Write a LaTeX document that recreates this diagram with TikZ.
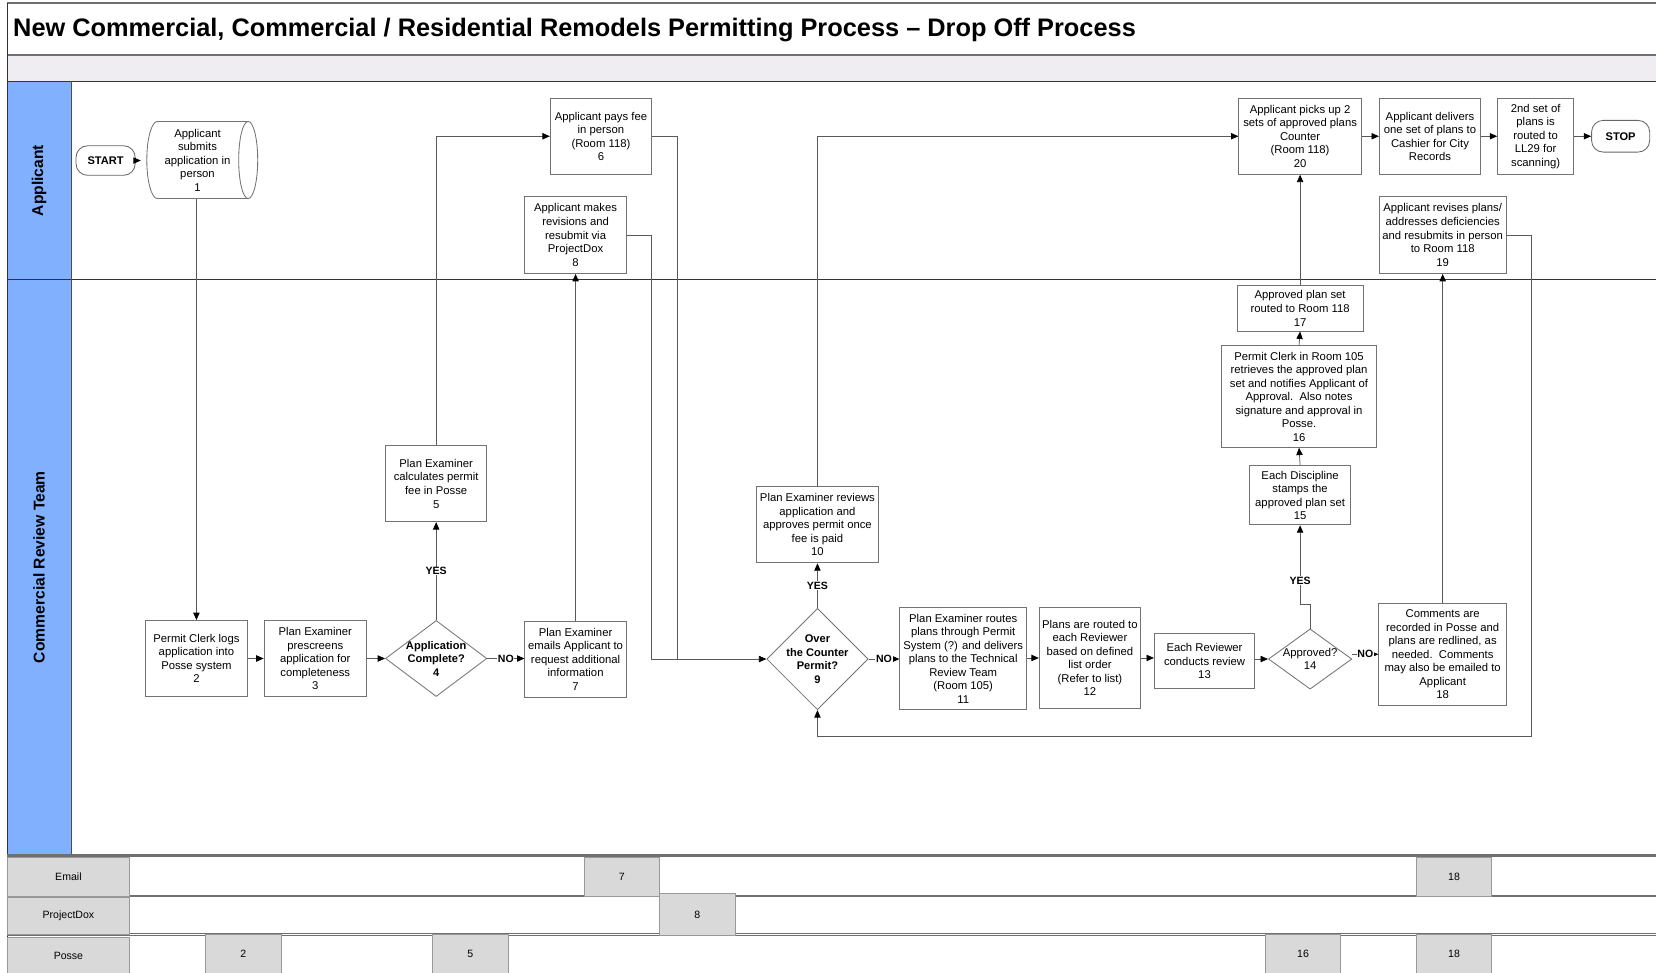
\documentclass[tikz,border=0pt]{standalone}
\usepackage{fontspec}
\setmainfont{Liberation Sans}
\usetikzlibrary{shapes.geometric,arrows.meta}
\definecolor{lanebl}{RGB}{128,176,255}
\definecolor{bandgr}{RGB}{239,237,242}
\definecolor{cellgr}{RGB}{217,217,217}
\definecolor{rulegr}{RGB}{112,112,112}
\begin{document}
\begin{tikzpicture}[x=1pt,y=-1pt,
  box/.style={draw=black!55, line width=0.8pt, fill=white, align=center, inner sep=1pt,
              font=\fontsize{10.7}{12.8}\selectfont},
  dia/.style={shape=diamond, draw=black!55, line width=0.8pt, fill=white, inner sep=0pt},
  diatext/.style={align=center, font=\bfseries\fontsize{10.5}{12.8}\selectfont},
  term/.style={draw=black!60, line width=0.8pt, rounded corners=11pt, fill=white, inner sep=0pt,
               font=\bfseries\fontsize{10.5}{12}\selectfont},
  conn/.style={draw=black!65, line width=0.7pt},
  arr/.style={conn, -{Triangle[length=7pt,width=6pt,color=black]}},
  lbl/.style={fill=white, inner sep=0.6pt, font=\bfseries\fontsize{10}{11}\selectfont},
  lanelbl/.style={rotate=90, font=\bfseries\fontsize{14.8}{16}\selectfont},
  cell/.style={fill=cellgr, draw=black!40, line width=0.6pt, inner sep=0pt, anchor=north west,
               font=\fontsize{10}{12}\selectfont},
]
\useasboundingbox (0,0) rectangle (1568,921);

% ---------- header, title band and swimlanes ----------
\fill[bandgr] (7,52) rectangle (1568,77);
\fill[lanebl] (7,77) rectangle (68,810);
\draw[rulegr, line width=1.6pt] (7,3) -- (1568,3);
\draw[rulegr, line width=1.6pt] (7,52) -- (1568,52);
\draw[black!80, line width=1pt] (7,77) -- (1568,77);
\draw[black!80, line width=1pt] (7,265) -- (1568,265);
\draw[black!70, line width=0.8pt] (68,77) -- (68,810);
\draw[black!80, line width=0.8pt] (7,3) -- (7,921);

\node[anchor=west, font=\bfseries\fontsize{24}{28}\selectfont] (title) at (9,28)
  {New Commercial, Commercial / Residential Remodels Permitting Process – Drop Off Process};

\node[lanelbl] (laneapp) at (37,171) {Applicant};
\node[lanelbl] (lanecrt) at (37,537) {Commercial Review Team};

% ---------- system rows ----------
\draw[rulegr, line width=2pt] (7,810) -- (1568,810);
\draw[rulegr, line width=2pt] (7,848) -- (1568,848);
\draw[rulegr, line width=0.8pt] (7,883.5) -- (1568,883.5);
\draw[rulegr, line width=0.8pt] (7,886) -- (1568,886);

\node[cell, minimum width=115, minimum height=37] (remail) at (7,811) {Email};
\node[cell, minimum width=115, minimum height=35] (rpdox) at (7,849) {ProjectDox};
\node[cell, minimum width=115, minimum height=35] (rposse) at (7,887) {Posse};

\node[cell, minimum width=71, minimum height=37] (e7)  at (553,811) {7};
\node[cell, minimum width=71, minimum height=37] (e18) at (1341,811) {18};
\node[cell, minimum width=72, minimum height=39] (p8)  at (624,846) {8};
\node[cell, minimum width=72, minimum height=37] (s2)  at (194,884) {2};
\node[cell, minimum width=72, minimum height=37] (s5)  at (409,884) {5};
\node[cell, minimum width=71, minimum height=37] (s16) at (1198,884) {16};
\node[cell, minimum width=71, minimum height=37] (s18) at (1341,884) {18};

% ---------- Applicant lane ----------
\node[term, minimum width=56, minimum height=28] (start) at (100,152) {START};

% application in person (horizontal cylinder)
\draw[black!55, line width=0.8pt, fill=white]
  (149,115) -- (235,115) arc[start angle=90, end angle=-90, x radius=9pt, y radius=36.5pt]
  -- (149,188) arc[start angle=-90, end angle=-270, x radius=10pt, y radius=36.5pt] -- cycle;
\draw[black!55, line width=0.8pt]
  (235,115) arc[start angle=90, end angle=270, x radius=9pt, y radius=36.5pt];
\node[align=center, inner sep=0pt, minimum width=107, minimum height=73,
      font=\fontsize{10.7}{12.8}\selectfont] (n1) at (187,151.5)
  {Applicant\\submits\\application in\\person\\1};

\node[box, minimum width=96, minimum height=72] (n6) at (569,129)
  {Applicant pays fee\\in person\\(Room 118)\\6};
\node[box, minimum width=96, minimum height=73] (n8) at (545,222.5)
  {Applicant makes\\revisions and\\resubmit via\\ProjectDox\\8};
\node[box, minimum width=116, minimum height=72] (n20) at (1231,129)
  {Applicant picks up 2\\sets of approved plans\\Counter\\(Room 118)\\20};
\node[box, minimum width=96, minimum height=72] (n21) at (1354,129)
  {Applicant delivers\\one set of plans to\\Cashier for City\\Records};
\node[box, minimum width=72, minimum height=72] (n22) at (1454,129)
  {2nd set of\\plans is\\routed to\\LL29 for\\scanning)};
\node[term, minimum width=55, minimum height=30] (stop) at (1534.5,129) {STOP};
\node[box, minimum width=120, minimum height=73] (n19) at (1366,222.5)
  {Applicant revises plans/\\addresses deficiencies\\and resubmits in person\\to Room 118\\19};

% ---------- Commercial Review Team lane ----------
\node[box, minimum width=96, minimum height=72] (n2) at (186,623.5)
  {Permit Clerk logs\\application into\\Posse system\\2};
\node[box, minimum width=97, minimum height=72] (n3) at (298.5,623.5)
  {Plan Examiner\\prescreens\\application for\\completeness\\3};
\node[dia, minimum width=96, minimum height=72,
      label={[name=t4, diatext]center:{Application\\Complete?\\4}}] (n4) at (413,623.5) {};
\node[box, minimum width=96, minimum height=72] (n5) at (413,458)
  {Plan Examiner\\calculates permit\\fee in Posse\\5};
\node[box, minimum width=96, minimum height=72] (n7) at (545,624)
  {Plan Examiner\\emails Applicant to\\request additional\\information\\7};
\node[dia, minimum width=96, minimum height=96,
      label={[name=t9, diatext]center:{Over\\the Counter\\Permit?\\9}}] (n9) at (774,624) {};
\node[box, minimum width=116, minimum height=72] (n10) at (774,497)
  {Plan Examiner reviews\\application and\\approves permit once\\fee is paid\\10};
\node[box, minimum width=120, minimum height=97] (n11) at (912,623.5)
  {Plan Examiner routes\\plans through Permit\\System (?) and delivers\\plans to the Technical\\Review Team\\(Room 105)\\11};
\node[box, minimum width=96, minimum height=96] (n12) at (1032,623)
  {Plans are routed to\\each Reviewer\\based on defined\\list order\\(Refer to list)\\12};
\node[box, minimum width=95, minimum height=52] (n13) at (1140.5,626)
  {Each Reviewer\\conducts review\\13};
\node[dia, minimum width=79, minimum height=57,
      label={[name=t14, align=center, font=\fontsize{10.7}{12.8}\selectfont]center:{Approved?\\14}}] (n14) at (1240.5,624) {};
\node[box, minimum width=96, minimum height=56] (n15) at (1231,469)
  {Each Discipline\\stamps the\\approved plan set\\15};
\node[box, minimum width=147, minimum height=96] (n16) at (1230,375.5)
  {Permit Clerk in Room 105\\retrieves the approved plan\\set and notifies Applicant of\\Approval.\ \ Also notes\\signature and approval in\\Posse.\\16};
\node[box, minimum width=119, minimum height=43] (n17) at (1231,292)
  {Approved plan set\\routed to Room 118\\17};
\node[box, minimum width=121, minimum height=97] (n18) at (1366,619.5)
  {Comments are\\recorded in Posse and\\plans are redlined, as\\needed.\ \ Comments\\may also be emailed to\\Applicant\\18};

% junction points of the routed connectors
\coordinate (j8) at (617,624);
\coordinate (j6) at (641,624);
\coordinate (k14) at (1231,572);
\coordinate (c19) at (1450,697);

% ---------- connectors ----------
\draw[arr] (start.east) -- (start.east -| n1.west);
\draw[arr] (n2.north |- n1.south) -- (n2.north);
\draw[arr] (n2.east) -- (n3.west);
\draw[arr] (n3.east) -- (n4.west);
\draw[arr] (n4.north) -- node[lbl, midway] (yes4) {YES} (n5.south);
\draw[arr] (n5.north) |- (n6.west);
\draw[arr] (n4.east) -- node[lbl, midway] (no4) {NO} (n4.east -| n7.west);
\draw[arr] (n7.north) -- (n8.south);
\draw[conn] (n6.east) -| (j6);
\draw[arr] (n8.east) -| (j8) -- (n9.west);
\draw[arr] (n9.north) -- node[lbl, midway] (yes9) {YES} (n10.south);
\draw[arr] (n10.north) |- (n20.west);
\draw[arr] (n9.east) -- node[lbl, midway] (no9) {NO} (n9.east -| n11.west);
\draw[arr] (n11.east |- n12.west) -- (n12.west);
\draw[arr] (n12.east) -- (n12.east -| n13.west);
\draw[arr] (n13.east |- n14.west) -- (n14.west);
\draw[conn] (n14.north) |- (k14);
\draw[arr] (k14) -- node[lbl, pos=0.3] (yes14) {YES} (n15.south);
\draw[arr] (n15.north) -- (n16.south);
\draw[arr] (n16.north) -- (n17.south);
\draw[arr] (n17.north) -- (n20.south);
\draw[arr] (n14.east |- n18.west) -- node[lbl, midway] (no14) {NO} (n18.west);
\draw[arr] (n18.north) -- (n19.south);
\draw[arr] (n19.east) -| (c19) -| (n9.south);
\draw[arr] (n20.east) -- (n21.west);
\draw[arr] (n21.east) -- (n22.west);
\draw[arr] (n22.east) -- (stop.west);
\end{tikzpicture}
\end{document}
